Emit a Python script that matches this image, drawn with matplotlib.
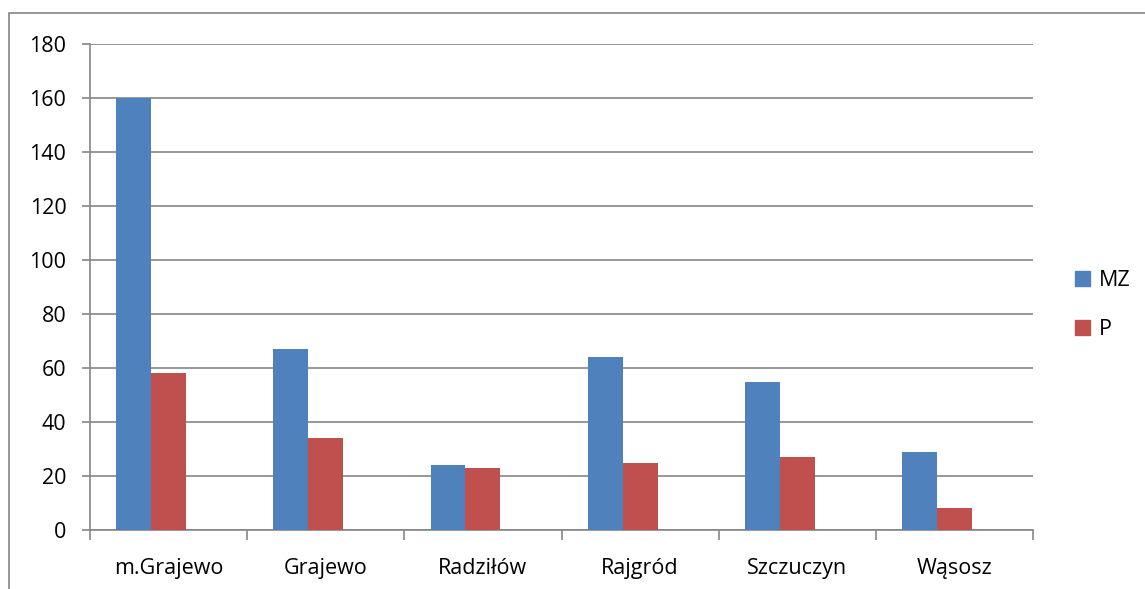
import numpy as np
import matplotlib.pyplot as plt
from matplotlib.patches import Rectangle, Patch

plt.rcParams['font.family'] = ['Open Sans', 'DejaVu Sans']

gminy = ["m.Grajewo", "Grajewo", "Radziłów", "Rajgród", "Szczuczyn", "Wąsosz"]
mz = [160, 67, 24, 64, 55, 29]
p = [58, 34, 23, 25, 27, 8]

niebieski = "#4f81bd"
czerwony = "#c0504d"
szary = "#868686"

fig = plt.figure(figsize=(11.45, 5.89), dpi=100)
ax = fig.add_axes([90/1145, 1-530/589, 943/1145, 486/589])

x = np.arange(len(gminy))
w = 1/4.5  # trzy serie, odstep 150%
ax.bar(x - w, mz, width=w, color=niebieski, label="MZ", zorder=3)
ax.bar(x, p, width=w, color=czerwony, label="P", zorder=3)

ax.set_xlim(-0.5, len(gminy) - 0.5)
ax.set_ylim(0, 180)
ax.set_yticks(range(0, 181, 20))
ax.set_xticks(np.arange(-0.5, len(gminy), 1.0))
ax.set_xticklabels([])
ax.set_xticks(x, minor=True)
ax.set_xticklabels(gminy, minor=True)
ax.tick_params(axis='x', which='minor', length=0, pad=20, labelsize=15.5)
ax.tick_params(axis='x', which='major', length=7, color=szary, width=1.2)
ax.tick_params(axis='y', length=6, color=szary, width=1.2, labelsize=15.5, pad=11)
ax.grid(axis='y', color=szary, linewidth=1.2, zorder=0)

for s in ["top", "right"]:
    ax.spines[s].set_visible(False)
for s in ["left", "bottom"]:
    ax.spines[s].set_color(szary)
    ax.spines[s].set_linewidth(1.2)

fig.patches.append(Rectangle((9/1145, -0.5), 2, 1.5 - 13/589, transform=fig.transFigure,
                             fill=False, edgecolor=szary, linewidth=1.2))

uchwyty = [Patch(color=niebieski, label="MZ"), Patch(color=czerwony, label="P")]
fig.legend(handles=uchwyty, loc="center left", bbox_to_anchor=(1075/1145, 1-305/589),
           frameon=False, fontsize=15.5, handlelength=0.7, handleheight=0.7,
           handletextpad=0.4, labelspacing=1.3, borderaxespad=0, borderpad=0)

fig.savefig("out.png", dpi=100)
